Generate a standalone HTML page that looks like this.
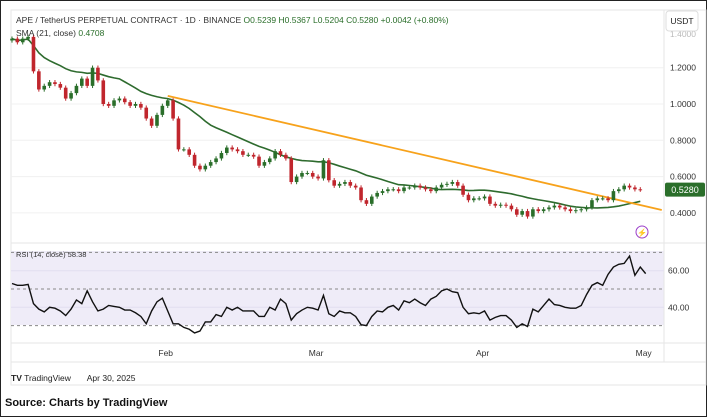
<!DOCTYPE html>
<html><head><meta charset="utf-8"><style>
body{margin:0;width:707px;height:417px;background:#fff;overflow:hidden;font-family:"Liberation Sans",sans-serif}
#wrap{position:absolute;left:0;top:0;width:705px;height:415px;border:1px solid #222}
</style></head><body>
<div id="wrap"></div>
<svg id="c" width="707" height="417" style="position:absolute;left:0;top:0"></svg>
<script>
const closes=[1.36,1.34,1.36,1.37,1.18,1.08,1.10,1.12,1.11,1.09,1.03,1.06,1.10,1.14,1.10,1.20,1.13,1.00,0.99,1.02,1.03,1.01,0.99,1.00,0.98,0.92,0.88,0.94,0.99,
1.02,0.92,0.75,0.75,0.72,0.66,0.64,0.66,0.68,0.70,0.73,0.76,0.75,0.74,0.72,0.72,0.71,0.66,0.68,0.70,0.74,0.72,0.70,0.57,0.60,0.62,0.62,0.60,
0.59,0.69,0.58,0.55,0.56,0.57,0.55,0.54,0.47,0.45,0.49,0.51,0.52,0.53,0.53,0.52,0.54,0.54,0.55,0.54,0.53,0.52,0.54,0.555,0.56,0.57,0.55,0.50,0.47,0.48,0.48,
0.49,0.45,0.44,0.445,0.44,0.42,0.39,0.41,0.38,0.42,0.41,0.42,0.43,0.44,0.43,0.42,0.41,0.415,0.42,0.43,0.47,0.48,0.48,0.47,0.52,0.53,0.55,0.54,0.53,0.528];
const rsi=[53,52,52,52.5,42,39,37.5,40,39.5,38,35.5,39,44,42,49,43,38,39,41,40.5,40,38.5,38.5,37,35,31,38,43,45,
38,31,31,29,28,26,27,32,32,36,35,40,38.5,40,38,38,38,35,35,40,38.5,44.5,42,33,36.5,38.5,40,39.5,
38.5,46.5,36.5,35,38,37,37,35,30.5,30,35,38,37.5,40,41,38.5,43.5,42.5,44.5,42.5,41,44.5,46,49,50,48.5,48,40,36.5,37,36.5,
38,33,34.5,35.5,35.5,33,29,31,29.5,39,37.5,41,44.5,41.5,41,40,39.5,39.5,41,47,52,53.5,52,58,62,63.5,64,68,57.5,62,58.4];
const priceTicks=[0.4,0.6,0.8,1.0,1.2];
const rsiTicks=[40,60];
const months=[{label:"Feb",i:29},{label:"Mar",i:57},{label:"Apr",i:88},{label:"May",i:118}];
const trend={i0:29,p0:1.045,i1:121,p1:0.416};

const NS="http://www.w3.org/2000/svg",svg=document.getElementById('c');
function mk(t,a,p){const e=document.createElementNS(NS,t);for(const k in a)e.setAttribute(k,a[k]);(p||svg).appendChild(e);return e;}
const X=i=>12+i*5.37, Y=p=>104+(1.0-p)*181.5, R=r=>289-(r-50)*1.83;

// panels
let e=mk('rect',{x:11,y:10,width:695,height:375,fill:'none',stroke:'#e6e6e6'});

e=mk('rect',{x:11,y:251,width:653,height:74,fill:'#efecf8'});

[243,343,362].forEach(y=>mk('line',{x1:11,x2:706,y1:y,y2:y,stroke:'#e6e6e6'}));
mk('line',{x1:664,x2:664,y1:10,y2:362,stroke:'#e6e6e6'});
priceTicks.forEach(p=>{mk('line',{x1:11,x2:664,y1:Y(p),y2:Y(p),stroke:'#f0f0f0'});
 const t=mk('text',{x:670,y:Y(p)+3,'font-size':8.5,fill:'#333'});t.textContent=p.toFixed(4);
 });
let t=mk('text',{x:670,y:37,'font-size':8.5,fill:'#bbb'});t.textContent='1.4000';
rsiTicks.forEach(r=>{mk('line',{x1:11,x2:664,y1:R(r),y2:R(r),stroke:'#e2def0'});
 const t=mk('text',{x:668,y:R(r)+3,'font-size':8.5,fill:'#333'});t.textContent=r.toFixed(2);
 });
[70,50,30].forEach(r=>mk('line',{x1:11,x2:664,y1:R(r),y2:R(r),stroke:'#888','stroke-dasharray':'3,3'}));
months.forEach(m=>{const t=mk('text',{x:X(m.i)-2,y:356,'font-size':8.5,fill:'#333','text-anchor':'middle'});t.textContent=m.label;
 });

// SMA
let pts=closes.map((c,i)=>{const s=closes.slice(Math.max(0,i-20),i+1);return X(i)+','+Y(s.reduce((a,b)=>a+b,0)/s.length)+'';});
e=mk('polyline',{points:pts.join(' '),fill:'none',stroke:'#2e6b2e','stroke-width':1.6});

// trendline
e=mk('line',{x1:X(trend.i0),y1:Y(trend.p0),x2:X(trend.i1),y2:Y(trend.p1),stroke:'#f7a21b','stroke-width':1.8});

// candles
closes.forEach((c,i)=>{const o=i?closes[i-1]:c-0.01;const up=c>=o;const col=up?'#2a6e2a':'#c0262d';
 const hi=Math.max(o,c)+0.012,lo=Math.min(o,c)-0.012;const g=mk('g',{});
 
 mk('line',{x1:X(i),x2:X(i),y1:Y(hi),y2:Y(lo),stroke:col,'stroke-width':1},g);
 mk('rect',{x:X(i)-1.8,y:Math.min(Y(o),Y(c)),width:3.6,height:Math.max(1,Math.abs(Y(o)-Y(c))),fill:col},g);});
// RSI
e=mk('polyline',{points:rsi.map((r,i)=>X(i)+','+R(r)).join(' '),fill:'none',stroke:'#111','stroke-width':1.4});


// labels
t=mk('text',{x:16,y:23,'font-size':8.5,fill:'#333'});t.innerHTML='APE / TetherUS PERPETUAL CONTRACT · 1D · BINANCE <tspan fill="#2a6e2a">O0.5239 H0.5367 L0.5204 C0.5280 +0.0042 (+0.80%)</tspan>';

t=mk('text',{x:16,y:36,'font-size':8.5,fill:'#333'});t.innerHTML='SMA (21, close) <tspan fill="#2a6e2a">0.4708</tspan>';

t=mk('text',{x:16,y:257,'font-size':7.5,fill:'#333'});t.textContent='RSI (14, close) 58.38';

e=mk('rect',{x:666,y:11,width:32,height:20,rx:3,fill:'#fff',stroke:'#ddd'});

t=mk('text',{x:682,y:24,'font-size':8.5,fill:'#222','text-anchor':'middle'});t.textContent='USDT';
e=mk('rect',{x:665,y:Y(0.528)-7,width:40,height:14,rx:2,fill:'#2a6e2a'});

t=mk('text',{x:685,y:Y(0.528)+3.5,'font-size':9,fill:'#fff','text-anchor':'middle'});t.textContent='0.5280';
e=mk('circle',{cx:642,cy:232,r:6,fill:'none',stroke:'#9b3fc9','stroke-width':1});

t=mk('text',{x:642,y:235.5,'font-size':8,fill:'#9b3fc9','text-anchor':'middle'});t.textContent='⚡';
t=mk('text',{x:11,y:381,'font-size':8.5,fill:'#222'});t.innerHTML='<tspan font-weight="bold">TV</tspan> TradingView <tspan dx="14">Apr 30, 2025</tspan>';

t=mk('text',{x:5,y:406,'font-size':11,'font-weight':'bold',fill:'#111'});t.textContent='Source: Charts by TradingView';

</script></body></html>
